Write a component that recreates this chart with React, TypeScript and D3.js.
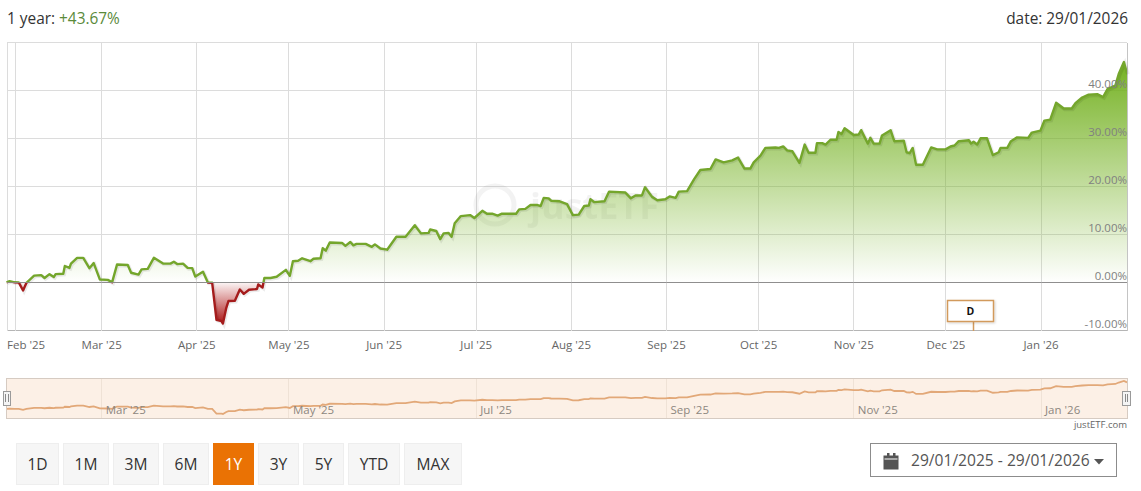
import React from "react";
import * as d3 from "d3";

const startDate = new Date(2025, 0, 29);
const daysSinceStart = [
  0,1,2.6,4,5.4,6.5,9,11.3,12.4,14,15.4,16,18.5,19,20.5,21,23,25,27,28.4,30.4,33,34.4,36,39.5,40.6,43,44,46,48,51,53.4,54.5,55.6,57.5,59,60.5,61.5,64,65.6,67,68.4,70,70.5,71.6,72.3,74.4,76,77.3,79,81.6,82,83.4,84,86,88,91,92.3,93.3,95,96.3,99,100,102.3,103,104,105.3,109.3,110.4,112,113,114,117,119,120,
  121.8,124,127,130,133,135,137.5,138,140,141.3,142.4,144,145,146,148,151,152.4,155,156.5,158.2,160,161.4,166,167,169,170.7,173,174,175,176.6,177.4,180,182.6,184.5,186.4,188.2,189.7,190.2,191.5,194.8,196.3,201.6,203.4,204.9,207,208,210.3,212,214.6,216,218,219,221.7,224,226,229.3,231,233.6,236.4,238.3,240.4,242.3,243.4,
  245.6,247.2,250.5,251.6,253,254.3,256,258.3,260,261.3,263.5,264,265.7,266.8,268.4,270.4,271,272,273,276,277.6,278.4,280.6,281.4,282.5,284.4,285.2,288,289.2,292.3,293.2,294.2,295.2,296.3,298.5,301.2,303.2,305.9,307.5,308.8,310.2,313.5,314.2,315,316.2,317.3,319.4,321.3,323.2,323.8,326,327.2,329.2,332.8,334,336.8,338.1,340,341.9,344.4,347,348.2,350.4,352.5,355.3,357.2,358.7,361.2,362.3,364,365
];
const returnPct = [
  0.1,0.35,0.1,0.07,-1.6,0,1.5,1.6,1,1.8,1.2,1.8,1.9,3.5,3.1,4,5.2,5.2,3.05,4.1,0.7,0.6,0.1,3.8,3.7,2.1,1.7,2.8,2.9,5.2,4,4,4.4,3.9,4,3.1,3.05,1.3,2.3,0.07,0,-7.7,-8,-8.5,-5.2,-3.8,-3.75,-1.4,-2.3,-1.45,-1.3,-0.35,-1,1,1,1.25,2.7,1.45,4.5,4.6,5.1,4.5,5,5.1,7.2,6.7,8.4,8.3,7.7,8.5,7.8,8.1,8.1,7.5,8,
  7.15,6.9,9.6,9.6,12,10.3,10.4,11.1,10.8,9.1,10.3,10.4,9.6,12.4,13.9,14.1,13.5,15,14.4,14.4,14,14.4,14.4,15.3,15.4,16.2,16.2,16,17.7,17.6,17.1,17,16.4,14.1,14.2,16,16.1,17.4,16.8,17,19,18.8,17.6,18.2,18.2,19.9,17.9,17.2,17.4,18,17.7,19,19.1,21.6,23.5,23.7,25.7,25.1,25.5,26.1,23.8,23.8,25.1,
  26.5,28.1,28.2,28.1,28.4,27.6,27.4,25,28.8,27.1,27.1,29.1,29.1,28.8,29.8,29.8,31.4,31,32.2,30.8,30.9,31.8,29,30.2,29,29,30.7,31.8,29.5,29.6,27.2,27,28.1,24.6,24.6,28.2,27.8,27.8,28.4,28.6,29.5,29.7,29,29.4,28.8,30.1,30.1,26.6,27.2,28.1,28.1,29.5,30.3,30.2,31.3,31.7,33.8,34,37.5,36.3,36.3,37.4,38.6,39.2,39.3,38.7,40.4,41.1,43.5,46,43.67
];
const yTicks = [-10, 0, 10, 20, 30, 40, 50];
const yLabels = [-10, 0, 10, 20, 30, 40];
const rangeButtons = ["1D", "1M", "3M", "6M", "1Y", "3Y", "5Y", "YTD", "MAX"];
const activeRange = "1Y";
const flagDays = 315;

const FONT = "'Open Sans', sans-serif";
const points = daysSinceStart.map((d, i) => ({
  date: new Date(startDate.getTime() + d * 864e5),
  v: returnPct[i],
}));
const endDate = new Date(2026, 0, 29);

const x = d3.scaleTime().domain([startDate, endDate]).range([6.5, 1127]);
const y = d3.scaleLinear().domain([-10, 50]).range([330.8, 42.8]);
const navY = d3.scaleLinear().domain([-8.5, 46]).range([414, 381]);

const line = d3.line<any>().x((p) => x(p.date)).y((p) => y(p.v));
const area = d3.area<any>().x((p) => x(p.date)).y1((p) => y(p.v)).y0(y(0));
const navLine = d3.line<any>().x((p) => x(p.date)).y((p) => navY(p.v));

const months = d3.timeMonth.range(new Date(2025, 1, 1), new Date(2026, 1, 1));
const navMonths = d3.timeMonth.range(new Date(2025, 2, 1), new Date(2026, 1, 1), 2);
const fmtMonth = (d: Date) => `${d3.timeFormat("%b")(d)} '${d3.timeFormat("%y")(d)}`;

const buttonWidths = [42, 45, 45, 45, 40, 40, 40, 51, 57];
const buttonGap = 5;
const buttonBand = rangeButtons.map((_, i) => 16 + d3.sum(buttonWidths.slice(0, i)) + i * buttonGap);

export default function App() {
  const zeroY = y(0);
  const flagX = x(new Date(startDate.getTime() + flagDays * 864e5));
  return (
    <svg width={1141} height={491} style={{ position: "absolute", left: 0, top: 0, fontFamily: FONT }}>
      <defs>
        <linearGradient id="gUp" gradientUnits="userSpaceOnUse" x1="0" x2="0" y1={y(46)} y2={zeroY}>
          <stop offset="0" stopColor="#72b01e" stopOpacity="0.98" />
          <stop offset="1" stopColor="#72b01e" stopOpacity="0" />
        </linearGradient>
        <linearGradient id="gDown" gradientUnits="userSpaceOnUse" x1="0" x2="0" y1={zeroY} y2={y(-8.5)}>
          <stop offset="0" stopColor="#b01515" stopOpacity="0.05" />
          <stop offset="1" stopColor="#a80f0f" stopOpacity="0.98" />
        </linearGradient>
        <clipPath id="clipUp"><rect x={0} y={0} width={1127} height={zeroY} /></clipPath>
        <clipPath id="clipDown"><rect x={0} y={zeroY} width={1127} height={331 - zeroY} /></clipPath>
        <filter id="flagShadow" x="-20%" y="-20%" width="150%" height="160%">
          <feDropShadow dx="1" dy="1" stdDeviation="1" floodColor="#000" floodOpacity="0.18" />
        </filter>
      </defs>

      <text x={7} y={24} fontSize={15.4} fill="#333">1 year: <tspan fill="#5a8a3a">+43.67%</tspan></text>
      <text x={1128} y={24} fontSize={15.4} fill="#333" textAnchor="end">date: 29/01/2026</text>

      {yTicks.map((t) => (
        <line key={t} x1={7} x2={1127} y1={y(t)} y2={y(t)} stroke={t === -10 ? "#b5b5b5" : t === 0 ? "#8f8f8f" : "#dcdcdc"} strokeWidth={1} shapeRendering="crispEdges" />
      ))}
      {months.map((m) => (
        <line key={+m} x1={x(m)} x2={x(m)} y1={43} y2={331} stroke="#dcdcdc" shapeRendering="crispEdges" />
      ))}
      <line x1={7} x2={7} y1={43} y2={331} stroke="#dcdcdc" shapeRendering="crispEdges" />
      <line x1={1127} x2={1127} y1={43} y2={331} stroke="#c4c4c4" shapeRendering="crispEdges" />

      <g opacity={0.07} fill="#555" stroke="none">
        <circle cx={495} cy={205} r={19} fill="none" stroke="#555" strokeWidth={5} />
        <text x={530} y={219} fontSize={36} fontWeight={700}>justETF</text>
      </g>

      <path d={area(points) ?? ""} fill="url(#gUp)" clipPath="url(#clipUp)" />
      <path d={area(points) ?? ""} fill="url(#gDown)" clipPath="url(#clipDown)" />
      <g transform="translate(1,1)" opacity={0.08} fill="none" stroke="#000" strokeWidth={3.5}>
        <path d={line(points) ?? ""} />
      </g>
      <path d={line(points) ?? ""} fill="none" stroke="#74a62c" strokeWidth={2.4} strokeLinejoin="round" clipPath="url(#clipUp)" />
      <path d={line(points) ?? ""} fill="none" stroke="#a51c1c" strokeWidth={2.4} strokeLinejoin="round" clipPath="url(#clipDown)" />
      <line x1={7} x2={1127} y1={zeroY} y2={zeroY} stroke="#8f8f8f" opacity={0.8} shapeRendering="crispEdges" />

      {yLabels.map((t) => (
        <text key={t} x={1127} y={y(t) - 3} fontSize={11.5} fill="#808080" textAnchor="end">{`${t.toFixed(2)}%`}</text>
      ))}
      {months.map((m, i) => (
        <text key={+m} x={i === 0 ? 7 : x(m)} y={349} fontSize={11.5} fill="#666" textAnchor={i === 0 ? "start" : "middle"}>{fmtMonth(m)}</text>
      ))}

      <line x1={flagX} x2={flagX} y1={322} y2={331} stroke="#d29a5c" strokeWidth={1.5} />
      <rect x={947.5} y={300.5} width={46} height={21} fill="#fff" stroke="#d29a5c" strokeWidth={1.5} filter="url(#flagShadow)" />
      <text x={970.5} y={315} fontSize={10.5} fontWeight={700} fill="#111" textAnchor="middle">D</text>

      <rect x={7} y={379} width={1120} height={39} fill="#fcf0e6" />
      {navMonths.map((m) => (
        <line key={+m} x1={x(m)} x2={x(m)} y1={379} y2={418} stroke="#efe2d6" shapeRendering="crispEdges" />
      ))}
      <path d={navLine(points) ?? ""} fill="none" stroke="#e2a878" strokeWidth={1.8} />
      {navMonths.map((m) => (
        <text key={+m} x={x(m) + 4} y={414} fontSize={11.5} fill="#8d8780">{fmtMonth(m)}</text>
      ))}
      <rect x={6.5} y={378.5} width={1120.5} height={39.5} fill="none" stroke="#d6cbc2" shapeRendering="crispEdges" />
      {[6.5, 1126].map((hx) => (
        <g key={hx}>
          <rect x={hx - 3.5} y={391} width={7.5} height={14} fill="#f4f4f4" stroke="#9a9a9a" shapeRendering="crispEdges" />
          <line x1={hx - 1} x2={hx - 1} y1={394} y2={402} stroke="#8a8a8a" shapeRendering="crispEdges" />
          <line x1={hx + 1.5} x2={hx + 1.5} y1={394} y2={402} stroke="#8a8a8a" shapeRendering="crispEdges" />
        </g>
      ))}
      <text x={1127} y={428} fontSize={9.5} fill="#666" textAnchor="end">justETF.com</text>

      {rangeButtons.map((b, i) => {
        const active = b === activeRange;
        return (
          <g key={b}>
            <rect x={buttonBand[i] + 0.5} y={443.5} width={buttonWidths[i]} height={41} fill={active ? "#ea7204" : "#f6f6f6"} stroke={active ? "#ea7204" : "#eeeeee"} />
            <text x={buttonBand[i] + buttonWidths[i] / 2 + 0.5} y={470} fontSize={15.6} fill={active ? "#fff" : "#333"} textAnchor="middle">{b}</text>
          </g>
        );
      })}

      <rect x={870.5} y={443.5} width={246} height={33} fill="#fff" stroke="#8c8c8c" />
      <g fill="#555">
        <rect x={884} y={456} width={14} height={2.5} />
        <rect x={884} y={459.5} width={14} height={9.5} />
        <rect x={884} y={456} width={14} height={13} fill="none" stroke="#555" />
        <rect x={887} y={453} width={2.5} height={4} />
        <rect x={893} y={453} width={2.5} height={4} />
      </g>
      <text x={911} y={466} fontSize={15.6} fill="#555">29/01/2025 - 29/01/2026</text>
      <path d={d3.line()([[1094, 459], [1104, 459], [1099, 464.5]]) + "Z"} fill="#555" />
    </svg>
  );
}
